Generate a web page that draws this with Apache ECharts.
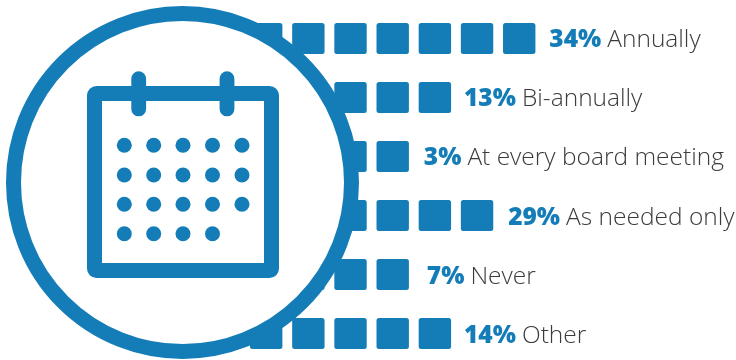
<!DOCTYPE html>
<html>
<head>
<meta charset="utf-8">
<style>html,body{margin:0;padding:0;background:#fff}#chart{width:736px;height:360px}</style>
<script src="https://cdn.jsdelivr.net/npm/echarts@6/dist/echarts.min.js"></script>
</head>
<body>
<div id="chart"></div>
<script>
// Board evaluation frequency: each row is a run of squares and a share label.
const categories = ['Annually', 'Bi-annually', 'At every board meeting', 'As needed only', 'Never', 'Other'];
const percents = [34, 13, 3, 29, 7, 14];
const squareCounts = [7, 5, 4, 6, 4, 5];

const BLUE = '#147db8';
const INK = '#3b3b3b';
const chart = echarts.init(document.getElementById('chart'), null, { renderer: 'canvas' });

// Calendar badge that sits on top of the rows.
const dotColumns = [124.3, 153.7, 183, 212.5, 242];
const dotRows = [145.3, 175, 204.3, 233.7];
const badge = [
  { type: 'circle', z: 10, shape: { cx: 182.5, cy: 182.5, r: 169 },
    style: { fill: '#fff', stroke: BLUE, lineWidth: 15 } },
  { type: 'rect', z: 11, shape: { x: 94.5, y: 93.5, width: 177, height: 177, r: 2 },
    style: { fill: '#fff', stroke: BLUE, lineWidth: 15 } }
];
[138.7, 227].forEach(function (x) {
  badge.push({ type: 'rect', z: 12, shape: { x: x - 7.4, y: 71.3, width: 14.8, height: 45, r: 7.4 },
    style: { fill: BLUE } });
});
dotRows.forEach(function (y, r) {
  dotColumns.forEach(function (x, c) {
    if (r === 3 && c === 4) return;
    badge.push({ type: 'circle', z: 12, shape: { cx: x, cy: y, r: 7.5 }, style: { fill: BLUE } });
  });
});

// Label offsets from the end of each row of squares.
const labelGaps = [9, 8, 10, 10, 13, 8];
const labelDrops = [1.5, 1.5, 2, 2.5, 3, 3];

chart.setOption({
  animation: false,
  backgroundColor: '#fff',
  grid: { left: 245.1, top: 38.5, width: 463.9, height: 295 },
  xAxis: { type: 'value', min: 0, max: 11, show: false },
  yAxis: { type: 'category', inverse: true, boundaryGap: false, data: categories, show: false },
  graphic: { elements: badge },
  series: [{
    type: 'custom',
    coordinateSystem: 'cartesian2d',
    clip: false,
    z: 2,
    data: categories.map(function (name, i) { return [squareCounts[i], i, percents[i]]; }),
    encode: { x: 0, y: 1 },
    renderItem: function (params, api) {
      const count = api.value(0);
      const row = api.value(1);
      const children = [];
      for (let k = 0; k < count; k++) {
        const p = api.coord([k + 0.5, row]);
        children.push({ type: 'rect', shape: { x: p[0] - 16.2, y: p[1] - 15.5, width: 32.4, height: 31, r: 2.5 },
          style: { fill: BLUE } });
      }
      const end = api.coord([count, row]);
      children.push({
        type: 'text',
        x: end[0] + labelGaps[params.dataIndex],
        y: end[1] + labelDrops[params.dataIndex],
        style: {
          text: '{p|' + api.value(2) + '%}{n|' + categories[params.dataIndex] + '}',
          verticalAlign: 'middle',
          rich: {
            p: { fontFamily: '"Open Sans"', fontWeight: 800, fontSize: 24.5, fill: BLUE },
            n: { fontFamily: '"Open Sans"', fontWeight: 300, fontSize: 24.5, fill: INK, padding: [0, 0, 0, 6] }
          }
        }
      });
      return { type: 'group', children: children };
    }
  }]
});
</script>
</body>
</html>
